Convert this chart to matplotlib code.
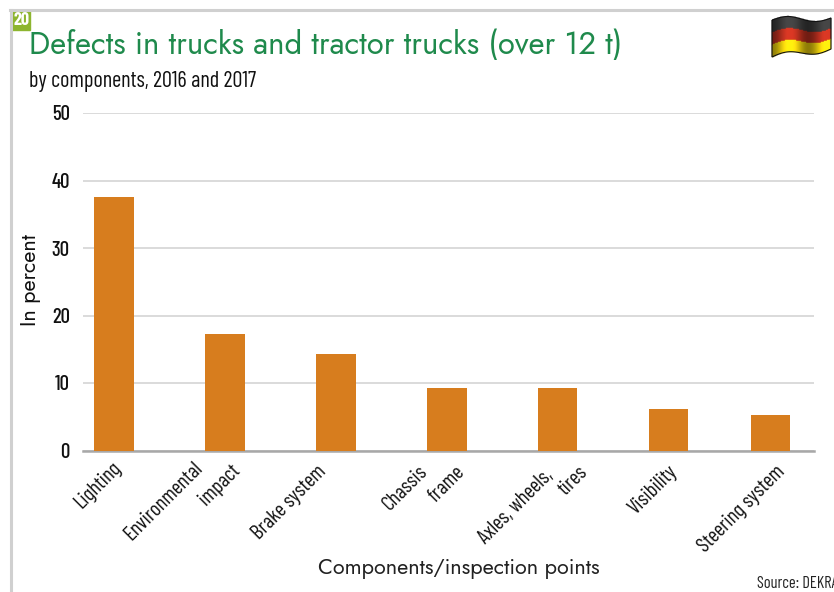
import numpy as np
import matplotlib
matplotlib.use("Agg")
import matplotlib.pyplot as plt
from matplotlib.patches import Rectangle, PathPatch
from matplotlib.path import Path
from matplotlib.lines import Line2D

# Data
categories = [["Lighting"], ["Environmental", "impact"], ["Brake system"], ["Chassis", "frame"],
              ["Axles, wheels,", "tires"], ["Visibility"], ["Steering system"]]
values = [37.5, 17.3, 14.3, 9.3, 9.3, 6.2, 5.3]
y_ticks = [0, 10, 20, 30, 40, 50]

# Layout (pixels of the 834x592 canvas)
W, H = 834, 592
bar_x = [0, 1, 2, 3, 3.995, 4.995, 5.914]
# where each label line ends, relative to the foot of its bar
label_off = [[(4, 14.5)], [(-25, 14.5), (12, 16.5)], [(-13, 18)], [(-22, 18), (15, 19)],
             [(-7.5, 22), (27, 19)], [(5.5, 18)], [(11.5, 18)]]
narrow = ["Barlow Condensed", "Roboto Condensed", "Liberation Sans Narrow", "Roboto", "DejaVu Sans"]
wide = ["Jost", "Lato", "DejaVu Sans"]

fig = plt.figure(figsize=(W / 100, H / 100), dpi=100)


def fx(px):
    return px / W


def fy(py):
    return 1 - py / H


# page frame and number badge
fig.add_artist(Line2D([fx(10.5), fx(10.5)], [fy(592), fy(10)], color="#d0d0d0", lw=2.2))
fig.add_artist(Line2D([fx(10), fx(834)], [fy(10), fy(10)], color="#d0d0d0", lw=2.2))
fig.add_artist(Rectangle((fx(12), fy(30)), 18 / W, 19 / H, color="#8db52f", transform=fig.transFigure))
fig.text(fx(21), fy(20.5), "20", color="white", fontsize=13, family=narrow, weight="bold",
         ha="center", va="center")

fig.text(fx(29), fy(45), "Defects in trucks and tractor trucks (over 12 t)", color="#1f8a4c",
         fontsize=22.3, family=wide, va="center")
fig.text(fx(29), fy(82), "by components, 2016 and 2017", color="#111111", fontsize=16,
         family=narrow, va="center")
fig.text(fx(757), fy(583), "Source: DEKRA", color="#222222", fontsize=11.8, family=narrow, va="center")

# chart
ax = fig.add_axes([fx(83), fy(450.5), (814 - 83) / W, (450.5 - 113) / H])
ax.bar(bar_x, values, width=0.352, color="#d77d1e", zorder=3)
ax.set_xlim(-0.279, 6.306)
ax.set_ylim(0, 50)
ax.set_yticks(y_ticks)
ax.set_yticklabels([str(v) for v in y_ticks], family=narrow, fontsize=15, color="#111111", weight="medium")
ax.set_xticks([])
ax.tick_params(axis="y", length=0, pad=9.5)
ax.grid(axis="y", color="#d4d4d4", lw=1.2, zorder=0)
ax.set_axisbelow(True)
for s in ["top", "right", "left"]:
    ax.spines[s].set_visible(False)
ax.spines["bottom"].set_color("#a8a8a8")
ax.spines["bottom"].set_linewidth(1.8)

for x, lines, offs in zip(bar_x, categories, label_off):
    for line, (dx, dy) in zip(lines, offs):
        ax.annotate(line, xy=(x, 0), xytext=(dx * 0.72, -dy * 0.72), textcoords="offset points",
                    rotation=45, rotation_mode="anchor", ha="right", va="center",
                    family=narrow, fontsize=15, color="#111111")

fig.text(fx(30), fy(280), "In percent", rotation=90, fontsize=15.5, family=wide, color="#111111",
         ha="center", va="center")
fig.text(fx(459), fy(568), "Components/inspection points", fontsize=15.6, family=wide, color="#222222",
         ha="center", va="center")

# flag in its own pixel axes
fl = fig.add_axes([fx(770), fy(60), 64 / W, 46 / H])
fl.set_xlim(770, 834)
fl.set_ylim(60, 14)
fl.axis("off")
xs = np.linspace(772, 831, 60)
t = (xs - 772) / 59
top = 20 - 3 * np.sin(t * 2 * np.pi) - 2 * t
bottom = 57 - 3 * np.sin(t * 2 * np.pi) - 8 * t
grad = np.clip(0.85 + 0.28 * np.cos((t - 0.3) * 2 * np.pi * 1.6), 0.45, 1.1)
stripes = [(0, 1 / 3, np.array([0.25, 0.25, 0.25])),
           (1 / 3, 2 / 3, np.array([0.78, 0.2, 0.13])),
           (2 / 3, 1, np.array([0.98, 0.86, 0.05]))]
for a, b, col in stripes:
    for i in range(len(xs) - 1):
        y0 = top[i] + (bottom[i] - top[i]) * a
        y1 = top[i] + (bottom[i] - top[i]) * b
        fl.fill_between(xs[i:i + 2], y0, y1, color=np.clip(col * grad[i], 0, 1), lw=0.3)
outline = np.r_[np.c_[xs, top], np.c_[xs[::-1], bottom[::-1]], [[xs[0], top[0]]]]
fl.add_patch(PathPatch(Path(outline), fill=False, ec="#111111", lw=0.8))

fig.savefig("out.png", dpi=100)
